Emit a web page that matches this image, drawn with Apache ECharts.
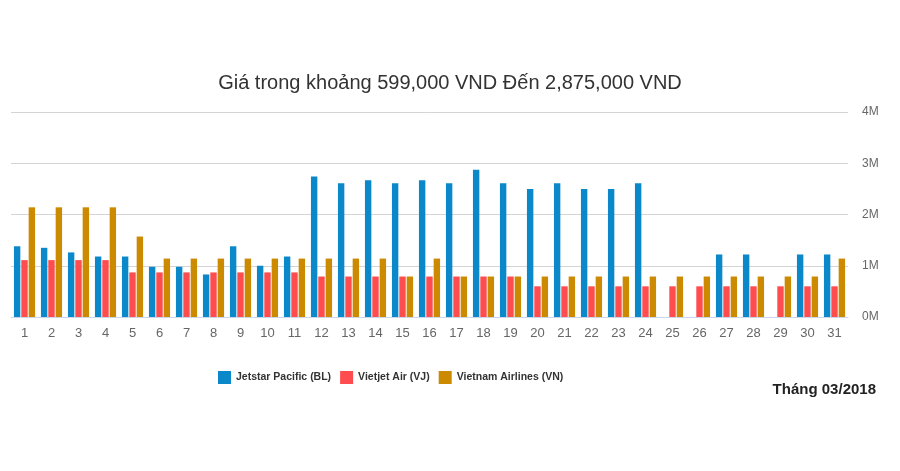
<!DOCTYPE html>
<html>
<head>
<meta charset="utf-8">
<script src="https://cdn.jsdelivr.net/npm/echarts@6/dist/echarts.min.js"></script>
<style>
  html, body { margin: 0; padding: 0; background: #fff; }
  #chart { width: 900px; height: 471px; }
</style>
</head>
<body>
<div id="chart"></div>
<script>
// ngày trong tháng
var days = [];
for (var d = 1; d <= 31; d++) days.push(String(d));

// giá (triệu VND)
var jetstar = [1.38, 1.35, 1.26, 1.18, 1.18, 0.98, 0.98, 0.83, 1.38, 1.0, 1.18,
  2.74, 2.61, 2.67, 2.61, 2.67, 2.61, 2.875, 2.61, 2.5, 2.61, 2.5, 2.5, 2.61,
  null, null, 1.22, 1.22, null, 1.22, 1.22];
var vietjet = [1.11, 1.11, 1.11, 1.11, 0.87, 0.87, 0.87, 0.87, 0.87, 0.87, 0.87,
  0.79, 0.79, 0.79, 0.79, 0.79, 0.79, 0.79, 0.79, 0.599, 0.599, 0.599, 0.599, 0.599,
  0.599, 0.599, 0.599, 0.599, 0.599, 0.599, 0.599];
var vna = [2.14, 2.14, 2.14, 2.14, 1.57, 1.14, 1.14, 1.14, 1.14, 1.14, 1.14,
  1.14, 1.14, 1.14, 0.79, 1.14, 0.79, 0.79, 0.79, 0.79, 0.79, 0.79, 0.79, 0.79,
  0.79, 0.79, 0.79, 0.79, 0.79, 0.79, 1.14];

var names = ['Jetstar Pacific (BL)', 'Vietjet Air (VJ)', 'Vietnam Airlines (VN)'];
var colors = ['#0a88c9', '#ff4d4f', '#cc8a00'];

var chart = echarts.init(document.getElementById('chart'));

function bar(name, data) {
  return {
    name: name,
    type: 'bar',
    barWidth: 6.4,
    barGap: '15%',
    data: data
  };
}

var option = {
  animation: false,
  color: colors,
  textStyle: { fontFamily: 'Liberation Sans, Arial, sans-serif' },
  title: [{
    text: 'Giá trong khoảng 599,000 VND Đến 2,875,000 VND',
    left: 'center',
    top: 68,
    textStyle: { fontSize: 20, fontWeight: 'normal', color: '#333' }
  }, {
    text: 'Tháng 03/2018',
    right: 19,
    top: 377,
    textStyle: { fontSize: 15, fontWeight: 'bold', color: '#222' }
  }],
  legend: {
    top: 366,
    left: 213,
    itemWidth: 13,
    itemHeight: 13,
    itemGap: 9,
    icon: 'rect',
    textStyle: { fontSize: 10.5, fontWeight: 'bold', color: '#333' },
    data: names
  },
  grid: { left: 11, right: 52, top: 112, bottom: 154 },
  xAxis: {
    type: 'category',
    data: days,
    axisLine: { lineStyle: { color: '#ccd6eb' } },
    axisTick: { length: 8, lineStyle: { color: '#ccd6eb' } },
    axisLabel: { color: '#666', fontSize: 13, margin: 10 }
  },
  yAxis: {
    type: 'value',
    position: 'right',
    min: 0,
    max: 4,
    interval: 1,
    axisLine: { show: false },
    axisTick: { show: false },
    axisLabel: {
      color: '#666',
      fontSize: 12,
      margin: 14,
      formatter: function (v) { return v + 'M'; }
    },
    splitLine: { lineStyle: { color: '#d4d4d4' } }
  },
  series: [
    bar(names[0], jetstar),
    bar(names[1], vietjet),
    bar(names[2], vna)
  ]
};
chart.setOption(option);
</script>
</body>
</html>
